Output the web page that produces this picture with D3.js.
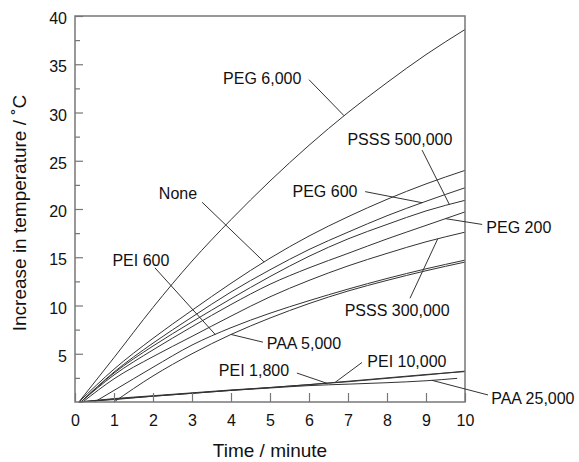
<!DOCTYPE html>
<html>
<head>
<meta charset="utf-8">
<title>Temperature increase</title>
<style type="text/css">
	body { margin: 0; background: #fff; }
	svg { font-family: "Liberation Sans", Arial, sans-serif; }
	.curve { fill: none; stroke: #333; stroke-width: 1; }
	.frame { fill: none; stroke: #777; stroke-width: 1.5; }
	.tick line { stroke: #777; stroke-width: 1.2; }
	.tick text { fill: #111; font-size: 16px; }
	.lbl { fill: #111; font-size: 16px; }
	.ptr { stroke: #333; stroke-width: 1; }
	.title { fill: #111; font-size: 19px; }
</style>
<script src="https://cdn.jsdelivr.net/npm/d3@7/dist/d3.min.js"></script>
</head>
<body>
<div id="chart"></div>
<script type="text/javascript">
// readings at every minute, after the onset point
var times = [1, 2, 3, 4, 5, 6, 7, 8, 9, 10];
var paa25000Times = [1, 2, 3, 4, 5, 6, 7, 8, 9, 9.8];

var peg6000  = [4.6, 9.8, 14.6, 18.9, 22.9, 26.6, 30.0, 33.1, 36.0, 38.6];
var none     = [3.4, 6.6, 9.5, 12.3, 14.9, 17.2, 19.2, 21.0, 22.6, 24.0];
var peg600   = [3.1, 6.1, 8.8, 11.4, 13.7, 15.8, 17.6, 19.3, 20.8, 22.2];
var psss500k = [3.0, 5.8, 8.3, 10.7, 13.0, 15.1, 16.9, 18.4, 19.8, 20.9];
var peg200   = [2.8, 5.4, 7.8, 10.1, 12.2, 13.9, 15.4, 16.9, 18.3, 19.7];
var psss300k = [2.4, 4.7, 6.8, 8.9, 10.9, 12.6, 14.1, 15.4, 16.6, 17.6];
var pei600   = [1.2, 3.6, 5.9, 7.7, 9.2, 10.5, 11.7, 12.8, 13.8, 14.7];
var paa5000  = [0, 2.7, 5.0, 7.0, 8.7, 10.2, 11.5, 12.6, 13.6, 14.5];
var pei1800  = [0.35, 0.65, 0.95, 1.25, 1.5, 1.8, 2.1, 2.45, 2.8, 3.2];
var pei10000 = [0.3, 0.6, 0.9, 1.2, 1.5, 1.8, 2.15, 2.5, 2.85, 3.15];
var paa25000 = [0.25, 0.6, 0.9, 1.2, 1.45, 1.7, 1.85, 2.0, 2.2, 2.45];

var seriesNames = ['PEG 6,000', 'None', 'PEG 600', 'PSSS 500,000', 'PEG 200', 'PSSS 300,000',
	'PEI 600', 'PAA 5,000', 'PEI 1,800', 'PEI 10,000', 'PAA 25,000'];
var seriesValues = [peg6000, none, peg600, psss500k, peg200, psss300k,
	pei600, paa5000, pei1800, pei10000, paa25000];
var seriesTimes = [times, times, times, times, times, times,
	times, times, times, times, paa25000Times];
var onsets = [0.1, 0.1, 0.15, 0.15, 0.15, 0.2, 0.5, 1, 0.1, 0.1, 0.1];

var xTicks = [0, 1, 2, 3, 4, 5, 6, 7, 8, 9, 10];
var yTicks = [5, 10, 15, 20, 25, 30, 35, 40];
var yMinorTicks = [2.5, 7.5, 12.5, 17.5, 22.5, 27.5, 32.5, 37.5];

// label text point, pointer start (both in data units) and the time where the pointer meets the curve
var labelAt   = [[4.8, 33.5], [2.64, 21.6], [6.41, 21.85], [8.33, 27.2], [11.38, 18.1], [8.26, 9.55],
	[1.69, 14.7], [5.87, 6.1], [4.59, 3.3], [8.51, 4.2], [11.74, 0.4]];
var pointerFrom = [[6.0, 33.4], [3.26, 20.7], [7.44, 21.8], [8.9, 26.1], [10.44, 18.4], [8.59, 10.75],
	[2.05, 13.9], [4.82, 6.2], [5.69, 3.0], [7.36, 4.1], [10.59, 0.73]];
var pointerTime = [6.9, 4.85, 8.9, 9.6, 9.5, 9.3, 3.6, 4.0, 6.46, 6.67, 9.15];

var W = 579, H = 462;
var margin = {left: 75, top: 16, right: 114, bottom: 60};
var innerW = W - margin.left - margin.right, innerH = H - margin.top - margin.bottom;

var x = d3.scaleLinear().domain([0, 10]).range([0, innerW]);
var y = d3.scaleLinear().domain([0, 40]).range([innerH, 0]);

var svg = d3.select('#chart').append('svg')
		.attr('width', W)
		.attr('height', H);
var g = svg.append('g').attr('transform', 'translate(' + margin.left + ',' + margin.top + ')');

// the flat part before the onset lies on the bottom frame, so the curve starts at the onset
var series = seriesNames.map(function(name, i) {
	var pts = [[onsets[i], 0]];
	seriesTimes[i].forEach(function(t, j) {
		if (t > onsets[i]) pts.push([t, seriesValues[i][j]]);
	});
	return {name: name, points: pts};
});

var line = d3.line()
		.x(function(d) { return x(d[0]); })
		.y(function(d) { return y(d[1]); })
		.curve(d3.curveMonotoneX);

g.selectAll('.curve')
		.data(series)
	.enter().append('path')
		.attr('class', 'curve')
		.attr('d', function(d) { return line(d.points); });

// axes, ticks point inward
var yMinor = g.append('g').attr('class', 'axis')
		.call(d3.axisLeft(y).tickValues(yMinorTicks).tickSize(-5).tickFormat(''));
var yAxis = g.append('g').attr('class', 'axis')
		.call(d3.axisLeft(y).tickValues(yTicks).tickSize(-8).tickPadding(8));
yAxis.selectAll('text').attr('dy', '0.47em');

var xAxis = g.append('g').attr('class', 'axis')
		.attr('transform', 'translate(0,' + innerH + ')')
		.call(d3.axisBottom(x).tickValues(xTicks).tickSize(-9).tickPadding(13));

g.selectAll('.axis .domain').remove();
g.selectAll('.axis text').attr('font-family', null).attr('font-size', null);

g.append('rect')
		.attr('class', 'frame')
		.attr('width', innerW)
		.attr('height', innerH);

// labels with pointer lines
function valueAt(i, t) {
	var pts = series[i].points;
	for (var k = 1; k < pts.length; k++) {
		if (t <= pts[k][0]) {
			var a = pts[k - 1], b = pts[k];
			return a[1] + (b[1] - a[1]) * (t - a[0]) / (b[0] - a[0]);
		}
	}
	return pts[pts.length - 1][1];
}

seriesNames.forEach(function(name, i) {
	g.append('line')
			.attr('class', 'ptr')
			.attr('x1', x(pointerFrom[i][0]))
			.attr('y1', y(pointerFrom[i][1]))
			.attr('x2', x(pointerTime[i]))
			.attr('y2', y(valueAt(i, pointerTime[i])));
	g.append('text')
			.attr('class', 'lbl')
			.attr('x', x(labelAt[i][0]))
			.attr('y', y(labelAt[i][1]))
			.attr('dy', '0.36em')
			.attr('text-anchor', 'middle')
			.text(name);
});

svg.append('text')
		.attr('class', 'title')
		.attr('x', margin.left + innerW / 2)
		.attr('y', 457)
		.attr('text-anchor', 'middle')
		.text('Time / minute');

svg.append('text')
		.attr('class', 'title')
		.attr('transform', 'translate(26,' + (margin.top + innerH / 2 + 4) + ') rotate(-90)')
		.attr('text-anchor', 'middle')
		.text('Increase in temperature / \u02daC');
</script>
</body>
</html>
